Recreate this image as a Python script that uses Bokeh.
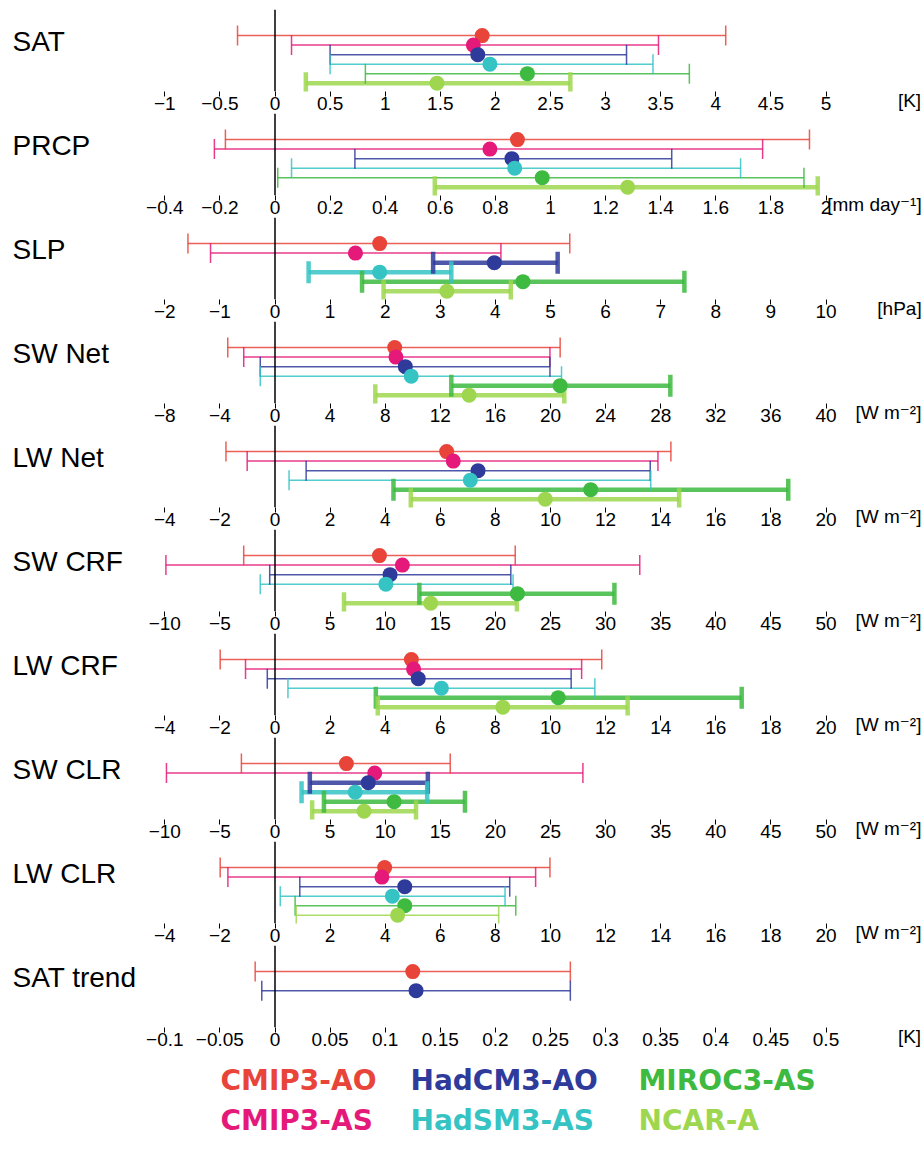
import numpy as np
from bokeh.plotting import figure
from bokeh.layouts import column
from bokeh.models import Range1d, FixedTicker, Span, Label, ColumnDataSource
from bokeh.embed import file_html
from bokeh.resources import INLINE

# ---------------------------------------------------------------- data
MODELS = ["CMIP3-AO", "CMIP3-AS", "HadCM3-AO", "HadSM3-AS", "MIROC3-AS", "NCAR-A"]
COLORS = ["#E8443A", "#E5197A", "#2F3B9B", "#35C3C4", "#3DBA3F", "#9ED74F"]

NAN = float("nan")

SAT_LO = [-0.34, 0.15, 0.50, 0.50, 0.82, 0.28]
SAT_MID = [1.88, 1.80, 1.84, 1.95, 2.29, 1.47]
SAT_HI = [4.09, 3.48, 3.19, 3.43, 3.76, 2.68]
SAT_SIG = [0, 0, 0, 0, 0, 1]
SAT_TICKS = [-1, -0.5, 0, 0.5, 1, 1.5, 2, 2.5, 3, 3.5, 4, 4.5, 5]

PRCP_LO = [-0.18, -0.22, 0.29, 0.06, 0.01, 0.58]
PRCP_MID = [0.88, 0.78, 0.86, 0.87, 0.97, 1.28]
PRCP_HI = [1.94, 1.77, 1.44, 1.69, 1.92, 1.97]
PRCP_SIG = [0, 0, 0, 0, 0, 1]
PRCP_TICKS = [-0.4, -0.2, 0, 0.2, 0.4, 0.6, 0.8, 1, 1.2, 1.4, 1.6, 1.8, 2]

SLP_LO = [-1.58, -1.17, 2.87, 0.61, 1.58, 1.97]
SLP_MID = [1.90, 1.46, 3.98, 1.90, 4.50, 3.12]
SLP_HI = [5.35, 4.10, 5.13, 3.20, 7.43, 4.28]
SLP_SIG = [0, 0, 1, 1, 1, 1]
SLP_TICKS = [-2, -1, 0, 1, 2, 3, 4, 5, 6, 7, 8, 9, 10]

SWNET_LO = [-3.43, -2.27, -1.07, -1.07, 12.8, 7.28]
SWNET_MID = [8.69, 8.78, 9.46, 9.89, 20.7, 14.09]
SWNET_HI = [20.7, 19.96, 19.96, 20.8, 28.7, 21.0]
SWNET_SIG = [0, 0, 0, 0, 1, 1]
SWNET_TICKS = [-8, -4, 0, 4, 8, 12, 16, 20, 24, 28, 32, 36, 40]

LWNET_LO = [-1.78, -1.01, 1.13, 0.51, 4.30, 4.93]
LWNET_MID = [6.23, 6.47, 7.37, 7.09, 11.46, 9.81]
LWNET_HI = [14.37, 13.90, 13.62, 13.64, 18.63, 14.67]
LWNET_SIG = [0, 0, 0, 0, 1, 1]
LWNET_TICKS = [-4, -2, 0, 2, 4, 6, 8, 10, 12, 14, 16, 18, 20]

SWCRF_LO = [-2.84, -9.90, -0.48, -1.34, 13.1, 6.26]
SWCRF_MID = [9.48, 11.56, 10.44, 10.06, 22.0, 14.13]
SWCRF_HI = [21.8, 33.1, 21.4, 21.6, 30.8, 21.95]
SWCRF_SIG = [0, 0, 0, 0, 1, 1]
SWCRF_TICKS = [-10, -5, 0, 5, 10, 15, 20, 25, 30, 35, 40, 45, 50]

LWCRF_LO = [-1.99, -1.07, -0.28, 0.47, 3.66, 3.73]
LWCRF_MID = [4.95, 5.03, 5.20, 6.04, 10.28, 8.27]
LWCRF_HI = [11.86, 11.13, 10.75, 11.61, 16.94, 12.80]
LWCRF_SIG = [0, 0, 0, 0, 1, 1]
LWCRF_TICKS = [-4, -2, 0, 2, 4, 6, 8, 10, 12, 14, 16, 18, 20]

SWCLR_LO = [-3.05, -9.85, 3.16, 2.41, 4.44, 3.37]
SWCLR_MID = [6.48, 9.05, 8.46, 7.28, 10.81, 8.08]
SWCLR_HI = [15.9, 27.94, 13.87, 13.81, 17.24, 12.80]
SWCLR_SIG = [0, 0, 1, 1, 1, 1]
SWCLR_TICKS = [-10, -5, 0, 5, 10, 15, 20, 25, 30, 35, 40, 45, 50]

LWCLR_LO = [-1.99, -1.71, 0.90, 0.19, 0.73, 0.77]
LWCLR_MID = [3.98, 3.88, 4.71, 4.26, 4.71, 4.45]
LWCLR_HI = [9.98, 9.46, 8.52, 8.35, 8.74, 8.12]
LWCLR_SIG = [0, 0, 0, 0, 0, 0]
LWCLR_TICKS = [-4, -2, 0, 2, 4, 6, 8, 10, 12, 14, 16, 18, 20]

TREND_LO = [-0.018, NAN, -0.012, NAN, NAN, NAN]
TREND_MID = [0.125, NAN, 0.128, NAN, NAN, NAN]
TREND_HI = [0.268, NAN, 0.268, NAN, NAN, NAN]
TREND_SIG = [0, 0, 0, 0, 0, 0]
TREND_TICKS = [-0.1, -0.05, 0, 0.05, 0.1, 0.15, 0.2, 0.25, 0.3, 0.35, 0.4, 0.45, 0.5]

PANELS = [
    ("SAT", "[K]", SAT_TICKS, SAT_LO, SAT_MID, SAT_HI, SAT_SIG),
    ("PRCP", "[mm day\u207b\u00b9]", PRCP_TICKS, PRCP_LO, PRCP_MID, PRCP_HI, PRCP_SIG),
    ("SLP", "[hPa]", SLP_TICKS, SLP_LO, SLP_MID, SLP_HI, SLP_SIG),
    ("SW Net", "[W m\u207b\u00b2]", SWNET_TICKS, SWNET_LO, SWNET_MID, SWNET_HI, SWNET_SIG),
    ("LW Net", "[W m\u207b\u00b2]", LWNET_TICKS, LWNET_LO, LWNET_MID, LWNET_HI, LWNET_SIG),
    ("SW CRF", "[W m\u207b\u00b2]", SWCRF_TICKS, SWCRF_LO, SWCRF_MID, SWCRF_HI, SWCRF_SIG),
    ("LW CRF", "[W m\u207b\u00b2]", LWCRF_TICKS, LWCRF_LO, LWCRF_MID, LWCRF_HI, LWCRF_SIG),
    ("SW CLR", "[W m\u207b\u00b2]", SWCLR_TICKS, SWCLR_LO, SWCLR_MID, SWCLR_HI, SWCLR_SIG),
    ("LW CLR", "[W m\u207b\u00b2]", LWCLR_TICKS, LWCLR_LO, LWCLR_MID, LWCLR_HI, LWCLR_SIG),
    ("SAT trend", "[K]", TREND_TICKS, TREND_LO, TREND_MID, TREND_HI, TREND_SIG),
]

# ---------------------------------------------------------------- layout
WIDTH = 924
PANEL_H = 104
TOP_PAD = 9
LEGEND_H = 1163 - TOP_PAD - PANEL_H * len(PANELS)
ZERO_PX = 274.5      # screen x of the zero line
STEP_PX = 55.1       # screen distance between neighbouring ticks
ROW_PX = 9.1         # vertical distance between model rows
FRAME_PX = 78.5      # height of the drawing area of a panel
FIRST_ROW_PX = 25    # frame top -> first model row
UNIT_RIGHT_PX = 921  # right edge of the unit text
TICK_PX = 19
TICK_SIZE = "%dpx" % TICK_PX

TICK_FONT = "'Liberation Sans', 'DejaVu Sans', sans-serif"
TITLE_FONT = "'Liberation Sans', 'DejaVu Sans', sans-serif"
LEGEND_FONT = "'DejaVu Sans', 'Noto Sans', sans-serif"

# advance widths (1/1000 em) of Liberation Sans, used to place the unit text
_ADVANCE = {"[": 278, "]": 278, "K": 667, "m": 833, " ": 278, "d": 556, "a": 556,
            "y": 500, "h": 556, "P": 667, "W": 944, "\u207b": 500, "\u00b9": 333,
            "\u00b2": 333}


def text_width(s, px):
    return sum(_ADVANCE.get(c, 556) for c in s) * px / 1000.0


def fmt(t):
    return ("%g" % t).replace("-", "\u2212")


def make_panel(title, unit, ticks, lo, mid, hi, sig, first):
    # the axis label is centred on the right end of the frame, so the frame
    # stops half a unit-width short of where the unit text should end
    border_right = int(round(WIDTH - UNIT_RIGHT_PX + text_width(unit, TICK_PX) / 2))
    frame_right = WIDTH - border_right
    step = ticks[1] - ticks[0]
    x_start = -ZERO_PX / STEP_PX * step
    x_end = (frame_right - ZERO_PX) / STEP_PX * step
    y_top = -FIRST_ROW_PX / ROW_PX
    y_bottom = y_top + FRAME_PX / ROW_PX

    p = figure(width=WIDTH, height=PANEL_H + (TOP_PAD if first else 0),
               x_range=Range1d(x_start, x_end), y_range=Range1d(y_bottom, y_top),
               output_backend="svg", toolbar_location=None,
               y_axis_location=None, min_border_left=0, min_border_right=border_right,
               min_border_top=TOP_PAD if first else 0, min_border_bottom=0,
               outline_line_color=None, background_fill_color="white",
               border_fill_color="white")
    # every panel keeps its own frame width (no alignment across the column)
    if "frame_align" in p.properties():
        p.frame_align = False
    p.grid.visible = False

    ax = p.xaxis[0]
    ax.ticker = FixedTicker(ticks=ticks, minor_ticks=[])
    ax.major_label_overrides = {t: fmt(t) for t in ticks}
    ax.axis_line_color = None
    ax.major_tick_in = 0
    ax.major_tick_out = 5
    ax.minor_tick_out = 0
    ax.minor_tick_in = 0
    ax.major_tick_line_color = "black"
    ax.major_tick_line_width = 1
    ax.major_label_standoff = 0
    ax.major_label_text_font = TICK_FONT
    ax.major_label_text_font_size = TICK_SIZE
    ax.major_label_text_color = "black"

    # the unit sits at the right end of the tick-label row
    ax.axis_label = unit
    ax.axis_label_text_font = TICK_FONT
    ax.axis_label_text_font_size = TICK_SIZE
    ax.axis_label_text_font_style = "normal"
    ax.axis_label_text_color = "black"
    ax.axis_label_standoff = -23
    if "axis_label_align" in ax.properties():
        ax.axis_label_align = "end"

    p.add_layout(Span(location=0, dimension="height", line_color="black", line_width=1.5))

    rows, los, mids, his, cols, lws, caps = [], [], [], [], [], [], []
    for i in range(len(MODELS)):
        if np.isnan(mid[i]):
            continue
        rows.append(i)
        los.append(lo[i])
        mids.append(mid[i])
        his.append(hi[i])
        cols.append(COLORS[i])
        lws.append(4.5 if sig[i] else 1.5)
        caps.append(22 if sig[i] else 20)
    src = ColumnDataSource(dict(row=rows, lo=los, mid=mids, hi=his,
                                color=cols, lw=lws, cap=caps))

    p.segment(x0="lo", y0="row", x1="hi", y1="row", line_color="color",
              line_width="lw", line_alpha=0.85, source=src)
    for end in ("lo", "hi"):
        p.scatter(x=end, y="row", marker="dash", angle=np.pi / 2, size="cap",
                  line_color="color", line_width="lw", line_alpha=0.85, source=src)
    p.scatter(x="mid", y="row", size=15, fill_color="color", line_color=None, source=src)

    p.add_layout(Label(x=12, y=0.6, x_units="screen", y_units="data", text=title,
                       text_font=TITLE_FONT, text_font_size="28px",
                       text_baseline="middle", text_color="black"))
    return p


figs = [make_panel(*spec, first=(k == 0)) for k, spec in enumerate(PANELS)]

# legend: model names written in their own colour
leg = figure(width=WIDTH, height=LEGEND_H, x_range=Range1d(0, 1), y_range=Range1d(0, 1),
             output_backend="svg", toolbar_location=None,
             x_axis_location=None, y_axis_location=None, min_border=0,
             outline_line_color=None)
if "frame_align" in leg.properties():
    leg.frame_align = False
leg.grid.visible = False
LEG_COL_X = [220, 410, 638]
LEG_ROW_Y = [LEGEND_H - 31, LEGEND_H - 71]
for i, name in enumerate(MODELS):
    col, row = i // 2, i % 2
    leg.add_layout(Label(x=LEG_COL_X[col], y=LEG_ROW_Y[row], x_units="screen",
                         y_units="screen", text=name, text_color=COLORS[i],
                         text_font=LEGEND_FONT, text_font_size="28px",
                         text_font_style="bold", text_baseline="middle"))

layout = column(*figs, leg, spacing=0)
open("out.html", "w").write(file_html(layout, INLINE))
